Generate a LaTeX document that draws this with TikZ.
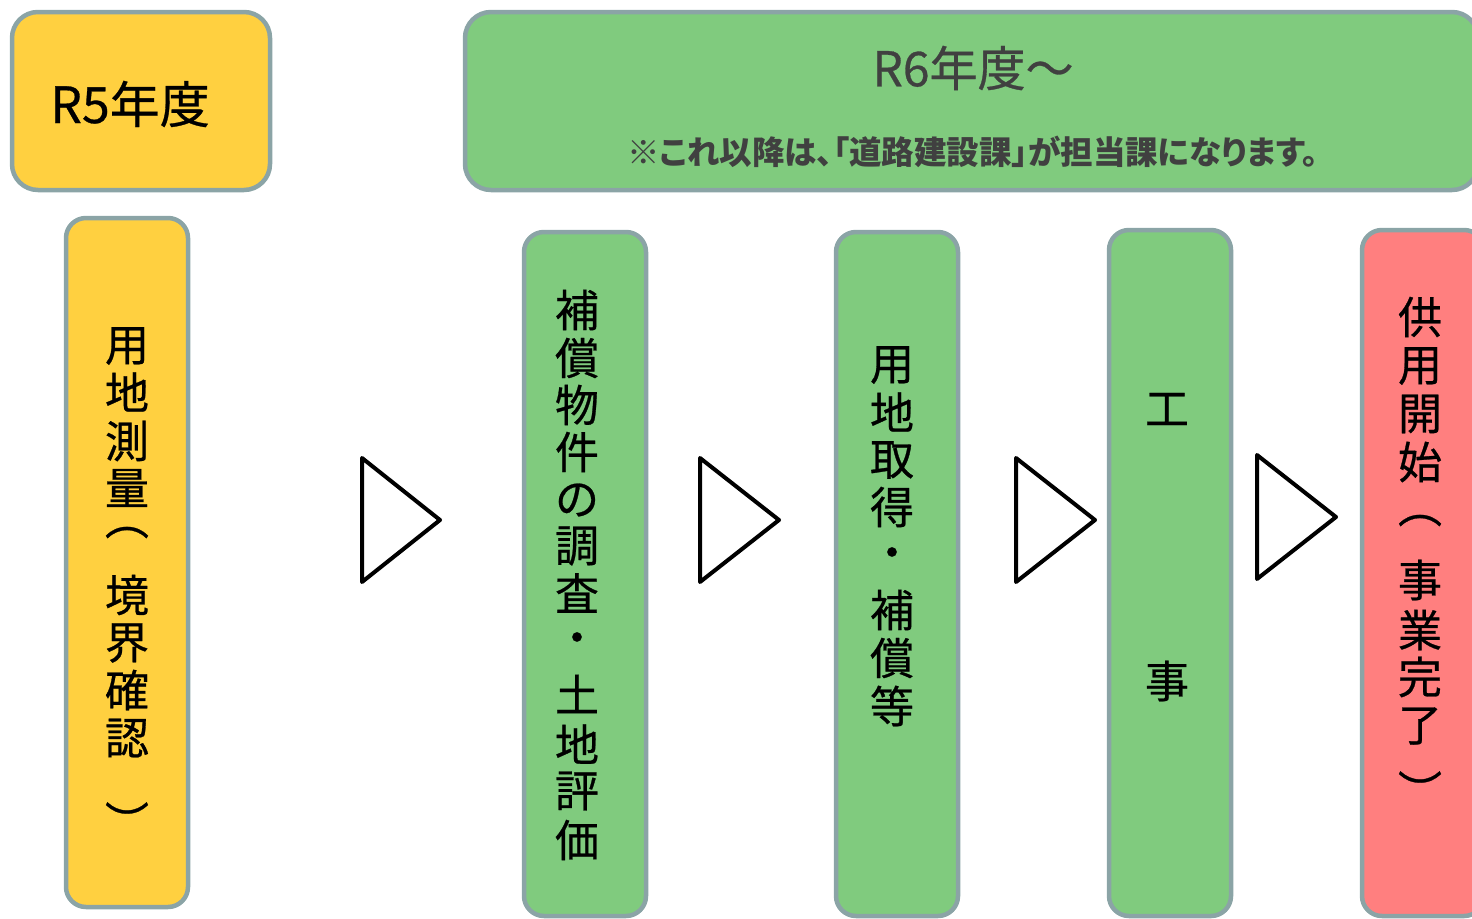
\documentclass[tikz,border=0pt]{standalone}
\usepackage{fontspec}
\setmainfont{Noto Sans CJK JP}
\newfontfamily\jpheavy[FakeBold=0.6]{Noto Sans CJK JP}
\newfontfamily\jpsub[RawFeature=+palt]{Noto Sans CJK JP}
\definecolor{bordergray}{RGB}{139,164,166}
\definecolor{yfill}{RGB}{255,208,64}
\definecolor{gfill}{RGB}{128,203,126}
\definecolor{rfill}{RGB}{255,127,127}
\definecolor{darktxt}{RGB}{64,64,64}
\tikzset{
  hdrbox/.style={draw=bordergray, line width=4.5pt, rounded corners=26pt, inner sep=0pt},
  colbox/.style={draw=bordergray, line width=4.5pt, rounded corners=20pt, inner sep=0pt, minimum width=122pt},
  vchar/.style={inner sep=0pt, font=\jpheavy\fontsize{44}{44}\selectfont},
  brk/.style={inner sep=0pt, text height=6pt, text depth=0pt, font=\jpheavy\fontsize{44}{44}\selectfont},
  tri/.style={draw=black, line width=4pt, fill=white, line join=round},
}
\begin{document}
\begin{tikzpicture}[x=1pt,y=-1pt]
\useasboundingbox (0,0) rectangle (1472,918);
\clip (0,0) rectangle (1472,918);
% header boxes
\node[hdrbox, fill=yfill, minimum width=258pt, minimum height=178pt] (r5) at (141,101) {};
\node[hdrbox, fill=gfill, minimum width=1013pt, minimum height=178pt] (r6) at (971.5,101) {};
\node[inner sep=0pt, font=\jpheavy\fontsize{50}{50}\selectfont] (r5t) at (130,104) {R5年度};
\node[inner sep=0pt, font=\jpheavy\fontsize{48}{48}\selectfont, text=darktxt] (r6t) at (973,68) {R6年度～};
\node[inner sep=0pt, font=\jpsub\fontsize{32.5}{32.5}\selectfont\bfseries, text=darktxt] (r6s) at (973,152) {※これ以降は、「道路建設課」が担当課になります。};
% column boxes
\node[colbox, fill=yfill, minimum height=689pt] (c1) at (127,562.5) {};
\node[colbox, fill=gfill, minimum height=684pt] (c2) at (585,574) {};
\node[colbox, fill=gfill, minimum height=684pt] (c3) at (897,574) {};
\node[colbox, fill=gfill, minimum height=686pt] (c4) at (1170,573) {};
\node[colbox, fill=rfill, minimum height=686pt] (c5) at (1423,573) {};
% vertical texts
\foreach \ch/\yy [count=\i] in {用/346,地/392,測/441,量/488,境/595,界/643,確/690,認/738}
  \node[vchar] (ta\i) at (127,\yy) {\ch};
\node[brk] (ta-open) at (127,532) {︵};
\node[brk] (ta-close) at (127,836) {︶};
\foreach \ch/\yy [count=\i] in {補/310,償/358,物/405,件/452,の/500,調/546,査/593,・/643,土/694,地/744,評/791,価/840}
  \node[vchar] (tb\i) at (577,\yy) {\ch};
\foreach \ch/\yy [count=\i] in {用/365,地/412,取/460,得/507,・/558,補/610,償/658,等/706}
  \node[vchar] (tc\i) at (892,\yy) {\ch};
\foreach \ch/\yy [count=\i] in {工/409,事/681}
  \node[vchar] (td\i) at (1167,\yy) {\ch};
\foreach \ch/\yy [count=\i] in {供/317,用/366,開/414,始/462,事/580,業/630,完/677,了/726}
  \node[vchar] (te\i) at (1420,\yy) {\ch};
\node[brk] (te-open) at (1420,520) {︵};
\node[brk] (te-close) at (1420,805) {︶};
% triangles
\draw[tri] (362,458) -- (362,582) -- (440,520) -- cycle;
\draw[tri] (700,458) -- (700,582) -- (779,520) -- cycle;
\draw[tri] (1016,458) -- (1016,582) -- (1095,520) -- cycle;
\draw[tri] (1257,455) -- (1257,579) -- (1336,517) -- cycle;
\end{tikzpicture}
\end{document}
